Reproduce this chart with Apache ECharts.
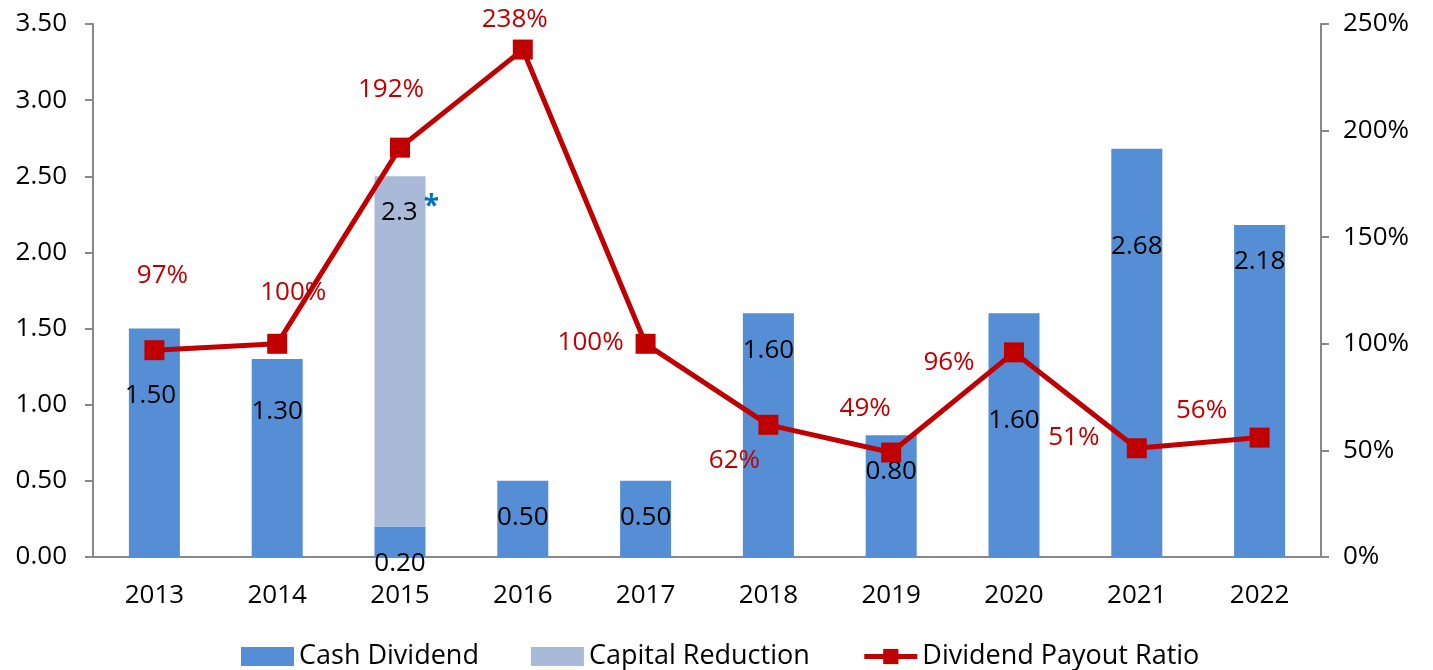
<!DOCTYPE html>
<html>
<head>
<meta charset="utf-8">
<script src="https://cdn.jsdelivr.net/npm/echarts@6/dist/echarts.min.js"></script>
<style>
  html, body { margin: 0; padding: 0; background: #fff; }
  #chart1 { width: 1433px; height: 670px; }
</style>
</head>
<body>
<div id="chart1"></div>
<script>
    // 数据
    var years = ['2013', '2014', '2015', '2016', '2017', '2018', '2019', '2020', '2021', '2022'];
    var cashDividend = [1.50, 1.30, 0.20, 0.50, 0.50, 1.60, 0.80, 1.60, 2.68, 2.18];
    var capitalReduction = ['-', '-', 2.3, '-', '-', '-', '-', '-', '-', '-'];
    var payoutRatio = [97, 100, 192, 238, 100, 62, 49, 96, 51, 56];
    var leftTicks = [0, 3.5, 0.5];
    var rightTicks = [0, 250, 50];

    // 标签位置 (样式)
    var barLabelPos = [[-4, 67], [0, 53], [0, 37], [0, 37], [0, 37], [0, 37], [0, 36], [0, 107], [0, 98], [0, 37]];
    var lineLabelPos = [[8, -75], [16, -51], [-9, -58], [-8, -30], [-55, -1], [-34, 36], [-26, -44], [-65, 10], [-63, -11], [-58, -27]];

    var fontFamily = '"Open Sans", "Noto Sans", sans-serif';
    var axisColor = '#888888';
    var fs = 26;

    var option = {
        textStyle: { fontFamily: fontFamily },
        animation: false,
        grid: { left: 93, right: 112, top: 24, bottom: 113 },
        legend: {
            left: 236,
            top: 638,
            itemWidth: 53,
            itemHeight: 19,
            itemGap: 52,
            lineStyle: { width: 5 },
            textStyle: { fontSize: 27, color: '#000', fontFamily: fontFamily },
            data: [
                { name: 'Cash Dividend', icon: 'rect' },
                { name: 'Capital Reduction', icon: 'rect' },
                { name: 'Dividend Payout Ratio' }
            ]
        },
        xAxis: {
            type: 'category',
            data: years,
            axisLine: { lineStyle: { color: axisColor, width: 2 } },
            axisTick: { alignWithLabel: false, length: 8, lineStyle: { color: axisColor, width: 2 } },
            axisLabel: { color: '#000', fontSize: fs, margin: 26 }
        },
        yAxis: [{
            type: 'value',
            min: leftTicks[0], max: leftTicks[1], interval: leftTicks[2],
            splitLine: { show: false },
            axisLine: { show: true, lineStyle: { color: axisColor, width: 2 } },
            axisTick: { show: true, length: 8, lineStyle: { color: axisColor, width: 2 } },
            axisLabel: { color: '#000', fontSize: fs, margin: 26, formatter: function (v) { return v.toFixed(2); } }
        }, {
            type: 'value',
            min: rightTicks[0], max: rightTicks[1], interval: rightTicks[2],
            splitLine: { show: false },
            axisLine: { show: true, lineStyle: { color: axisColor, width: 2 } },
            axisTick: { show: true, length: 8, lineStyle: { color: axisColor, width: 2 } },
            axisLabel: { color: '#000', fontSize: fs, margin: 22, formatter: '{value}%' }
        }],
        series: [{
            name: 'Cash Dividend',
            type: 'bar',
            stack: 'div',
            barWidth: 51,
            itemStyle: { color: '#558ED5' },
            data: cashDividend.map(function (v, i) {
                return {
                    value: v,
                    label: {
                        show: true,
                        position: ['50%', barLabelPos[i][1]],
                        offset: [barLabelPos[i][0], 0],
                        align: 'center',
                        verticalAlign: 'middle',
                        color: '#000',
                        fontSize: fs,
                        formatter: function (p) { return p.value.toFixed(2); }
                    }
                };
            })
        }, {
            name: 'Capital Reduction',
            type: 'bar',
            stack: 'div',
            barWidth: 51,
            itemStyle: { color: '#A9BAD8' },
            label: {
                show: true,
                position: ['50%', 36],
                offset: [10, 0],
                align: 'center',
                verticalAlign: 'middle',
                color: '#000',
                fontSize: fs,
                formatter: function (p) { return p.value + '{s|*}'; },
                rich: { s: { color: '#0070C0', fontSize: 28, fontWeight: 'bold', padding: [0, 0, 10, 6] } }
            },
            data: capitalReduction
        }, {
            name: 'Dividend Payout Ratio',
            type: 'line',
            yAxisIndex: 1,
            symbol: 'rect',
            symbolSize: 20,
            lineStyle: { color: '#C00000', width: 5 },
            itemStyle: { color: '#C00000' },
            z: 5,
            data: payoutRatio.map(function (v, i) {
                return {
                    value: v,
                    label: {
                        show: true,
                        position: 'inside',
                        offset: lineLabelPos[i],
                        color: '#C00000',
                        fontSize: fs,
                        formatter: '{c}%'
                    }
                };
            })
        }]
    };

    var myChart = echarts.init(document.getElementById('chart1'));
    myChart.setOption(option);
</script>
</body>
</html>
